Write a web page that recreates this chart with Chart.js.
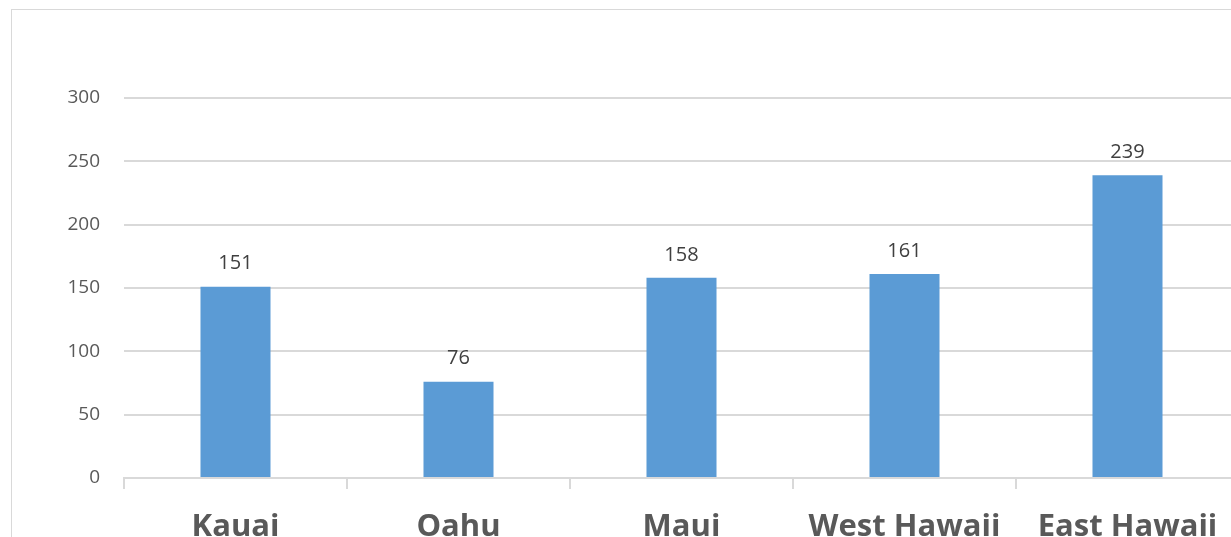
<!DOCTYPE html>
<html>
<head>
<meta charset="utf-8">
<script src="https://cdn.jsdelivr.net/npm/chart.js@4/dist/chart.umd.min.js"></script>
<style>
  html, body { margin: 0; padding: 0; background: #fff; overflow: hidden; width: 1231px; height: 537px; }
  #frame { position: absolute; left: 11px; top: 9px; width: 1300px; height: 600px; border: 1px solid #d9d9d9; box-sizing: border-box; }
  #wrap { position: absolute; left: 0; top: 0; width: 1245px; height: 580px; }
</style>
</head>
<body>
<div id="frame"></div>
<div id="wrap"><canvas id="c"></canvas></div>
<script>
const categories = ["Kauai", "Oahu", "Maui", "West Hawaii", "East Hawaii"];
const values = [151, 76, 158, 161, 239];
const yTicks = [0, 50, 100, 150, 200, 250, 300];

const dataLabels = {
  id: 'dataLabels',
  afterDatasetsDraw(chart) {
    const ctx = chart.ctx;
    const meta = chart.getDatasetMeta(0);
    ctx.save();
    ctx.font = '20px "Open Sans"';
    ctx.fillStyle = '#404040';
    ctx.textAlign = 'center';
    ctx.textBaseline = 'bottom';
    meta.data.forEach((bar, i) => {
      ctx.fillText(String(values[i]), bar.x, bar.y - 13);
    });
    ctx.restore();
  }
};

new Chart(document.getElementById('c'), {
  type: 'bar',
  data: {
    labels: categories,
    datasets: [{
      data: values,
      backgroundColor: '#5b9bd5',
      borderWidth: 0,
      categoryPercentage: 1,
      barPercentage: 0.314
    }]
  },
  options: {
    responsive: true,
    maintainAspectRatio: false,
    animation: false,
    layout: { padding: { top: 98, right: 6, left: 0, bottom: 0 } },
    plugins: { legend: { display: false }, tooltip: { enabled: false } },
    scales: {
      x: {
        offset: true,
        grid: { display: true, drawOnChartArea: false, offset: true, tickLength: 11, color: '#d9d9d9', lineWidth: 2 },
        border: { display: true, color: '#d9d9d9', width: 2 },
        ticks: { color: '#595959', font: { family: '"Open Sans"', size: 31, weight: 'bold' }, padding: 20, maxRotation: 0, autoSkip: false },
        afterFit(scale) { scale.height = 102; }
      },
      y: {
        min: 0, max: 300,
        afterBuildTicks(scale) { scale.ticks = yTicks.map(v => ({ value: v })); },
        grid: { color: '#d9d9d9', lineWidth: 2, drawTicks: false },
        border: { display: false },
        ticks: { color: '#595959', font: { family: '"Open Sans"', size: 19 }, padding: 24 },
        afterFit(scale) { scale.width = 124; }
      }
    }
  },
  plugins: [dataLabels]
});
</script>
</body>
</html>
